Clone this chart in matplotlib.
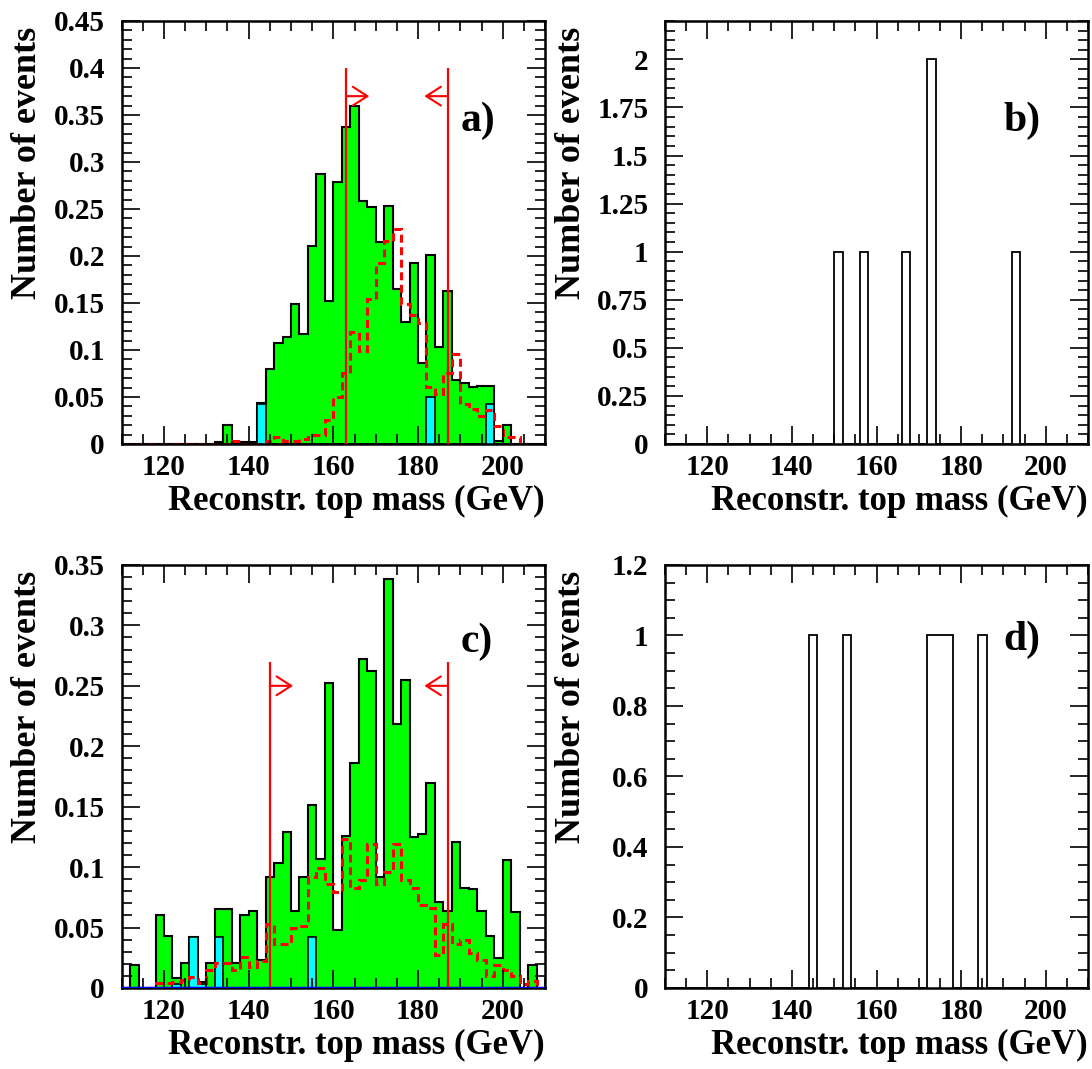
import numpy as np
import matplotlib.pyplot as plt
from matplotlib.ticker import MultipleLocator, FormatStrFormatter

plt.rcParams['font.family'] = ['Liberation Serif', 'DejaVu Serif']
plt.rcParams['font.weight'] = 'bold'

# 2 GeV bins from 110 to 210 GeV
edges = np.arange(110, 212, 2)

# panel a) - green: expected total, red dashed: signal, cyan: background
green_a = [0, 0, 0, 0, 0, 0, 0, 0, 0, 0,
           0, 0.002, 0.020, 0.002, 0.002, 0.002, 0.044, 0.080, 0.107, 0.114,
           0.149, 0.117, 0.211, 0.287, 0.152, 0.279, 0.337, 0.359, 0.258, 0.252,
           0.215, 0.253, 0.165, 0.130, 0.192, 0.086, 0.201, 0.103, 0.163, 0.068,
           0.065, 0.061, 0.062, 0.062, 0.003, 0.020, 0, 0, 0, 0]
red_a = [0, 0, 0, 0, 0, 0, 0, 0, 0, 0,
         0, 0, 0, 0.003, 0, 0, 0, 0.003, 0.007, 0.003,
         0.003, 0.005, 0.010, 0.010, 0.026, 0.050, 0.076, 0.119, 0.099, 0.154,
         0.192, 0.216, 0.229, 0.149, 0.137, 0.129, 0.061, 0.053, 0.076, 0.096,
         0.043, 0.037, 0.030, 0.036, 0.019, 0.007, 0.007, 0, 0, 0]
cyan_a = [0, 0, 0, 0, 0, 0, 0, 0, 0, 0,
          0, 0, 0, 0, 0, 0, 0.042, 0, 0, 0,
          0, 0, 0, 0, 0, 0, 0, 0, 0, 0,
          0, 0, 0, 0, 0, 0, 0.050, 0, 0, 0,
          0, 0, 0, 0.042, 0, 0, 0, 0, 0, 0]

# panel b) - data events
data_b = [0, 0, 0, 0, 0, 0, 0, 0, 0, 0,
          0, 0, 0, 0, 0, 0, 0, 0, 0, 0,
          1, 0, 0, 1, 0, 0, 0, 0, 1, 0,
          0, 2, 0, 0, 0, 0, 0, 0, 0, 0,
          0, 1, 0, 0, 0, 0, 0, 0, 0, 0]

# panel c)
green_c = [0, 0.019, 0, 0, 0.060, 0.043, 0.008, 0.021, 0.042, 0.005,
           0.021, 0.065, 0.065, 0.021, 0.060, 0.064, 0.023, 0.092, 0.103, 0.129,
           0.064, 0.092, 0.151, 0.107, 0.252, 0.048, 0.126, 0.186, 0.272, 0.262,
           0.092, 0.338, 0.218, 0.255, 0.125, 0.127, 0.170, 0.071, 0.064, 0.121,
           0.083, 0.082, 0.064, 0.043, 0.025, 0.106, 0.063, 0, 0.019, 0]
red_c = [0, 0, 0, 0, 0.004, 0.004, 0.005, 0.007, 0.009, 0.004,
         0.015, 0.021, 0.021, 0.015, 0.026, 0.017, 0.022, 0.053, 0.036, 0.036,
         0.050, 0.051, 0.092, 0.099, 0.086, 0.079, 0.123, 0.083, 0.089, 0.119,
         0.086, 0.096, 0.119, 0.089, 0.083, 0.069, 0.066, 0.027, 0.053, 0.036,
         0.040, 0.029, 0.023, 0.010, 0.019, 0.015, 0.010, 0.003, 0.006, 0]
cyan_c = [0, 0, 0, 0, 0, 0, 0.003, 0, 0.042, 0.003,
          0, 0.042, 0, 0, 0, 0, 0, 0, 0, 0,
          0, 0, 0.042, 0, 0, 0, 0, 0, 0, 0,
          0, 0, 0, 0, 0, 0, 0, 0, 0, 0,
          0, 0, 0, 0, 0, 0, 0, 0, 0, 0]

# panel d)
data_d = [0, 0, 0, 0, 0, 0, 0, 0, 0, 0,
          0, 0, 0, 0, 0, 0, 0, 1, 0, 0,
          0, 1, 0, 0, 0, 0, 0, 0, 0, 0,
          0, 1, 1, 1, 0, 0, 0, 1, 0, 0,
          0, 0, 0, 0, 0, 0, 0, 0, 0, 0]

# mass window cuts
cuts_a = [163, 187]
cuts_c = [145, 187]
line_top_a, arrow_y_a = 0.40, 0.37
line_top_c, arrow_y_c = 0.27, 0.25
arrow_len = 5.5

xlab = 'Reconstr. top mass (GeV)'
ylab = 'Number of events'

fig = plt.figure(figsize=(10.92, 10.69), dpi=100)
ax_a = fig.add_axes([0.1114, 0.5847, 0.3877, 0.3957])
ax_b = fig.add_axes([0.6090, 0.5847, 0.3874, 0.3957])
ax_c = fig.add_axes([0.1114, 0.0758, 0.3877, 0.3957])
ax_d = fig.add_axes([0.6090, 0.0758, 0.3874, 0.3957])


def style(ax, ymax, ymajor, yminor, label, lab_y):
    ax.set_xlim(110, 210)
    ax.set_ylim(0, ymax)
    ax.xaxis.set_major_locator(MultipleLocator(20))
    ax.xaxis.set_minor_locator(MultipleLocator(5))
    ax.yaxis.set_major_locator(MultipleLocator(ymajor))
    ax.yaxis.set_minor_locator(MultipleLocator(yminor))
    ax.yaxis.set_major_formatter(FormatStrFormatter('%g'))
    ax.tick_params(which='both', direction='in', top=True, right=True, width=1.2)
    ax.tick_params(which='major', length=13, labelsize=21)
    ax.tick_params(which='minor', length=7)
    ax.tick_params(axis='x', pad=7)
    ax.tick_params(axis='y', pad=12)
    for s in ax.spines.values():
        s.set_linewidth(1.8)
    ax.set_xlabel(xlab, fontsize=25, fontweight='bold', ha='right')
    ax.xaxis.set_label_coords(1.0, -0.098)
    ax.xaxis.label.set_va('top')
    ax.set_ylabel(ylab, fontsize=26, fontweight='bold')
    ax.yaxis.set_label_coords(-0.183, 0.665)
    ax.text(0.80, lab_y, label, transform=ax.transAxes, fontsize=30,
            fontweight='bold', ha='left', va='baseline')


def mc_panel(ax, green, red, cyan, cuts, top, ay):
    ax.stairs(green, edges, fill=True, facecolor='#00ff00', edgecolor='black', lw=1.5)
    ax.stairs(cyan, edges, fill=True, facecolor='#00ffff', edgecolor='black', lw=1.2)
    ax.stairs(red, edges, color='red', lw=2.2, linestyle=(0, (2.6, 1.5)))
    ax.vlines(cuts, 0, top, color='red', lw=1.6, zorder=5)
    astyle = '->,head_length=0.7,head_width=0.45'
    ax.annotate('', xy=(cuts[0] + arrow_len, ay), xytext=(cuts[0], ay),
                arrowprops=dict(arrowstyle=astyle, mutation_scale=15,
                                color='red', lw=1.5, shrinkA=0, shrinkB=0),
                zorder=5)
    ax.annotate('', xy=(cuts[1] - arrow_len, ay), xytext=(cuts[1], ay),
                arrowprops=dict(arrowstyle=astyle, mutation_scale=15,
                                color='red', lw=1.5, shrinkA=0, shrinkB=0),
                zorder=5)


mc_panel(ax_a, green_a, red_a, cyan_a, cuts_a, line_top_a, arrow_y_a)
style(ax_a, 0.45, 0.05, 0.01, 'a)', 0.74)

ax_b.stairs(data_b, edges, color='black', lw=1.3)
style(ax_b, 2.2, 0.25, 0.05, 'b)', 0.74)

mc_panel(ax_c, green_c, red_c, cyan_c, cuts_c, line_top_c, arrow_y_c)
ax_c.axhline(0, color='blue', lw=2.5, zorder=6)
style(ax_c, 0.35, 0.05, 0.01, 'c)', 0.795)

ax_d.stairs(data_d, edges, color='black', lw=1.3)
style(ax_d, 1.2, 0.2, 0.05, 'd)', 0.80)

fig.savefig('out.png', dpi=100)
